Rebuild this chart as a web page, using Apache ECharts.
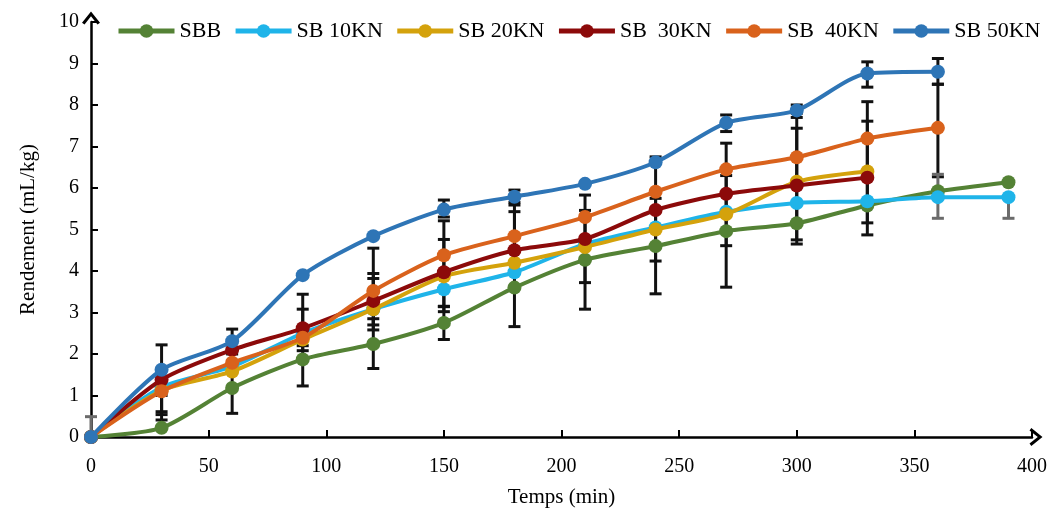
<!DOCTYPE html>
<html><head><meta charset="utf-8">
<script src="https://cdn.jsdelivr.net/npm/echarts@6/dist/echarts.min.js"></script>
<style>html,body{margin:0;padding:0;background:#fff}#c{width:1055px;height:514px}</style>
</head><body><div id="c"></div>
<script>
const times = [0,30,60,90,120,150,180,210,240,270,300,330,360,390];
const seriesNames = ['SBB','SB 10KN','SB 20KN','SB  30KN','SB  40KN','SB 50KN'];
const sbb   = [0,0.22,1.18,1.87,2.24,2.75,3.6,4.27,4.6,4.96,5.15,5.58,5.92,6.14];
const sb10  = [0,1.2,1.7,2.5,3.08,3.56,3.97,4.65,5.05,5.43,5.64,5.68,5.78,5.78];
const sb20  = [0,1.12,1.58,2.35,3.08,3.87,4.2,4.58,5.0,5.37,6.15,6.4];
const sb30  = [0,1.38,2.1,2.62,3.28,3.97,4.5,4.77,5.47,5.86,6.06,6.25];
const sb40  = [0,1.1,1.79,2.39,3.52,4.38,4.84,5.3,5.91,6.45,6.74,7.19,7.45];
const sb50  = [0,1.62,2.31,3.9,4.84,5.48,5.79,6.1,6.62,7.57,7.87,8.76,8.8];
const colors = ['#548235','#1fb4e9','#d4a20c','#8c0a0a','#d9621c','#2e75b6'];
// error bars [time, low, high]
const errBlack = [
  [30,0.41,2.22],[30,0.54,1.0],[30,0.61,1.2],
  [60,0.57,1.83],[60,2.0,2.6],
  [90,1.23,2.53],[90,2.08,3.08],[90,2.2,3.44],
  [120,1.65,2.85],[120,2.58,3.94],[120,2.7,4.55],[120,3.3,3.82],
  [150,2.35,3.15],[150,3.02,4.76],[150,3.14,5.21],[150,5.3,5.71],
  [180,2.66,4.54],[180,4.0,5.59],[180,4.2,5.43],[180,5.65,5.95],
  [210,3.08,5.46],[210,3.72,5.83],
  [240,3.45,5.75],[240,4.24,6.75],
  [270,3.61,6.3],[270,4.61,7.08],[270,7.36,7.76],
  [300,4.65,7.44],[300,4.75,7.7],[300,7.8,8.0],
  [330,4.87,8.08],[330,5.16,7.61],[330,8.43,9.04],
  [360,6.27,8.5],[360,8.5,9.12]
];
const errGray = [[0,0,0.49],[360,5.27,6.33],[390,5.27,5.8]];

function pair(vals){ return vals.map((v,i)=>[times[i],v]); }
const allData = [sbb,sb10,sb20,sb30,sb40,sb50];

function errRender(color){
  return function(params, api){
    const lo = api.coord([api.value(0), api.value(1)]);
    const hi = api.coord([api.value(0), api.value(2)]);
    const w = 6;
    const st = {stroke: color, lineWidth: 3};
    return {type:'group', children:[
      {type:'line', shape:{x1:lo[0],y1:lo[1],x2:hi[0],y2:hi[1]}, style:st},
      {type:'line', shape:{x1:lo[0]-w,y1:lo[1],x2:lo[0]+w,y2:lo[1]}, style:st},
      {type:'line', shape:{x1:hi[0]-w,y1:hi[1],x2:hi[0]+w,y2:hi[1]}, style:st}
    ]};
  };
}

const font = 'Liberation Serif';
const chevron = 'path://M50,0 L100,62 L86,72 L50,26 L14,72 L0,62 Z';
const series = [
  {type:'custom', name:'errB', renderItem: errRender('#111'), data: errBlack, z:1, silent:true},
  {type:'custom', name:'errG', renderItem: errRender('#6b6b6b'), data: errGray, z:1, silent:true}
];
seriesNames.forEach((n,i)=>{
  series.push({
    type:'line', name:n, data: pair(allData[i]), smooth:0.25,
    symbol:'circle', symbolSize:14, color: colors[i],
    lineStyle:{width:4, color:colors[i]}, itemStyle:{color:colors[i]}, z:2+i
  });
});

const chart = echarts.init(document.getElementById('c'));
chart.setOption({
  animation:false,
  backgroundColor:'#fff',
  color: colors,
  legend:{
    data: seriesNames, left:116, top:15, width:939, padding:[5,0],
    itemWidth:56, itemHeight:17, itemGap:12,
    lineStyle:{width:5},
    textStyle:{fontFamily:font, fontSize:22, color:'#000'}
  },
  grid:{left:91, right:23, top:22, bottom:77},
  xAxis:{
    type:'value', min:0, max:400, interval:50,
    name:'Temps (min)', nameLocation:'middle', nameGap:50,
    nameTextStyle:{fontFamily:font, fontSize:21, color:'#000'},
    axisLine:{show:true, lineStyle:{color:'#000', width:2.5}, symbol:['none',chevron], symbolSize:[18,14], symbolOffset:[0,4]},
    axisTick:{show:true, inside:true, length:7, lineStyle:{color:'#000', width:2}},
    axisLabel:{fontFamily:font, fontSize:20, color:'#000', margin:20},
    splitLine:{show:false}
  },
  yAxis:{
    type:'value', min:0, max:10, interval:1,
    name:'Rendement (mL/kg)', nameLocation:'middle', nameGap:52,
    nameTextStyle:{fontFamily:font, fontSize:21, color:'#000'},
    axisLine:{show:true, lineStyle:{color:'#000', width:2.5}, symbol:['none',chevron], symbolSize:[18,14], symbolOffset:[0,4]},
    axisTick:{show:true, inside:true, length:7, lineStyle:{color:'#000', width:2}},
    axisLabel:{fontFamily:font, fontSize:20, color:'#000', margin:12},
    splitLine:{show:false}
  },
  series: series
});
</script></body></html>
